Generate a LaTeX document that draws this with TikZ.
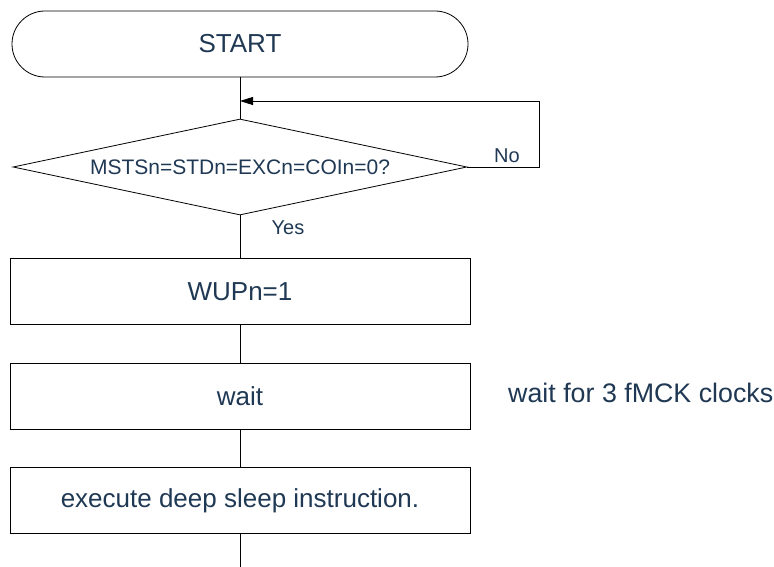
\documentclass[tikz,border=0pt]{standalone}
\usepackage{fontspec}
\setmainfont{Liberation Sans}
\usetikzlibrary{shapes.geometric,arrows.meta}
\definecolor{txt}{RGB}{31,56,83}
\begin{document}
\begin{tikzpicture}[x=1pt,y=-1pt,
  every node/.style={text=txt},
  line/.style={draw=black,line width=0.8pt},
  procbox/.style={line, rectangle, minimum width=460pt, minimum height=66pt, inner sep=0pt, font=\fontsize{26}{30}\selectfont},
  termbox/.style={line, rectangle, rounded corners=33pt, minimum width=456pt, minimum height=66pt, inner sep=0pt, font=\fontsize{26}{30}\selectfont},
  decbox/.style={line, diamond, aspect=4.73, minimum width=454pt, minimum height=96pt, inner sep=0pt, font=\fontsize{21}{25}\selectfont},
  lbl/.style={font=\fontsize{20}{24}\selectfont, inner sep=0pt},
  note/.style={font=\fontsize{26.8}{30}\selectfont, inner sep=0pt, anchor=west},
  arr/.style={line, -{Triangle[length=13pt,width=8pt]}}
]
\useasboundingbox (0,0) rectangle (774,567);
\node[termbox] (start) at (240,44) {START};
\node[decbox] (dec) at (240,167) {MSTSn=STDn=EXCn=COIn=0?};
\node[procbox] (wup) at (240,291.5) {WUPn=1};
\node[procbox] (wait) at (240,396) {wait};
\node[procbox] (exec) at (240,500.5) {execute deep sleep instruction.};
\node[note] (waitnote) at (508,393) {wait for 3 fMCK clocks};
\node[lbl] (no) at (507,156) {No};
\node[lbl] (yes) at (288,228) {Yes};
\coordinate (lp) at (539,101);
\coordinate (endpt) at (240,567);
\draw[line] (start.south) -- (dec.north);
\draw[arr] (dec.east) -- (dec.east -| lp) -- (lp) -- (start.south |- lp);
\draw[line] (dec.south) -- (wup.north);
\draw[line] (wup.south) -- (wait.north);
\draw[line] (wait.south) -- (exec.north);
\draw[line] (exec.south) -- (endpt);
\end{tikzpicture}
\end{document}
